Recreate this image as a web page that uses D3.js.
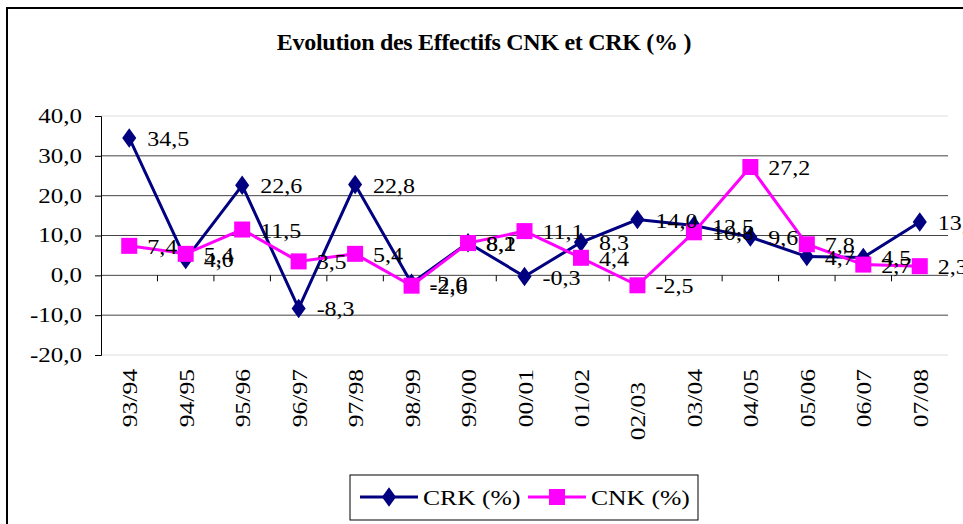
<!DOCTYPE html>
<html><head><meta charset="utf-8">
<script src="https://cdn.jsdelivr.net/npm/d3@7"></script>
</head><body><svg id="c" width="963" height="524"></svg>
<script>
const categories = ["93/94","94/95","95/96","96/97","97/98","98/99","99/00","00/01","01/02","02/03","03/04","04/05","05/06","06/07","07/08"];
const crkValues = [34.5,4.0,22.6,-8.3,22.8,-2.0,8.2,-0.3,8.3,14.0,12.5,9.6,4.7,4.5,13.4];
const cnkValues = [7.4,5.4,11.5,3.5,5.4,-2.6,8.1,11.1,4.4,-2.5,10.8,27.2,7.8,2.7,2.3];
const yTicks = [-20,-10,0,10,20,30,40];
const seriesNames = ["CRK (%)","CNK (%)"];
const title = "Evolution des Effectifs CNK et CRK (% )";
const SERIF = "Liberation Serif";
const SX = 1.2; // horizontal stretch of the original text rendering

d3.select("body").style("margin","0px").style("font-family",SERIF);
const svg = d3.select("#c").style("display","block").style("font-family",SERIF);
const L = 101, R = 948, T = 116, B = 355;
const x = d3.scaleBand().domain(categories).range([L, R]);
const y = d3.scaleLinear().domain([-20, 40]).range([B, T]);
const fmt = v => d3.format(".1f")(v).replace("−","-").replace(".", ",");

// outer frame
svg.append("path").attr("d","M7,530 V8 H970").attr("fill","none").attr("stroke","#000").attr("stroke-width",2);

svg.append("text").attr("x",484).attr("y",50).attr("text-anchor","middle").style("font-family",SERIF)
  .attr("font-weight","bold").attr("font-size",24).attr("letter-spacing",-0.3).text(title);

// plot area borders (light)
svg.append("line").attr("x1",L).attr("x2",R).attr("y1",T).attr("y2",T).attr("stroke","#ddd");
svg.append("line").attr("x1",L).attr("x2",R).attr("y1",B).attr("y2",B).attr("stroke","#ddd");
// gridlines
svg.append("g").selectAll("line").data(yTicks.filter(d=>d>-20&&d<40)).join("line")
  .attr("x1",L).attr("x2",R).attr("y1",d=>y(d)).attr("y2",d=>y(d)).attr("stroke","#444").attr("stroke-width",1);

// y axis
const ya = svg.append("g").attr("transform",`translate(${L},0)`)
  .call(d3.axisLeft(y).tickValues(yTicks).tickFormat(fmt).tickSize(6).tickPadding(13));
ya.attr("font-family",null).attr("font-size",null);
ya.selectAll("text").attr("font-size",20).attr("fill","#000").style("font-family",SERIF)
  .attr("x",-19/1.25).attr("transform","scale(1.25,1)");
ya.selectAll("line,path").attr("stroke","#000");

// category axis at zero
const x0 = y(0);
svg.append("g").selectAll("line").data(categories.slice(1)).join("line")
  .attr("x1",d=>x(d)).attr("x2",d=>x(d)).attr("y1",x0).attr("y2",x0+6).attr("stroke","#000");

// category labels
svg.append("g").selectAll("text").data(categories).join("text")
  .attr("transform",d=>`translate(${x(d)+x.bandwidth()/2+8},${d==="02/03"?382:369}) rotate(-90) scale(1.22,1)`)
  .attr("text-anchor","end").attr("font-size",21).style("font-family",SERIF).text(d=>d);

const cx = d => x(d) + x.bandwidth()/2;
const line = d3.line().x((d,i)=>cx(categories[i])).y(d=>y(d));

// CRK
svg.append("path").datum(crkValues).attr("d",line).attr("fill","none").attr("stroke","#000080").attr("stroke-width",3);
svg.append("g").selectAll("path").data(crkValues).join("path")
  .attr("d",d3.symbol(d3.symbolDiamond,110)())
  .attr("transform",(d,i)=>`translate(${cx(categories[i])},${y(d)}) scale(1.25,1)`)
  .attr("fill","#000080");
// CNK
svg.append("path").datum(cnkValues).attr("d",line).attr("fill","none").attr("stroke","#ff00ff").attr("stroke-width",3);
svg.append("g").selectAll("rect").data(cnkValues).join("rect")
  .attr("x",(d,i)=>cx(categories[i])-8).attr("y",d=>y(d)-8).attr("width",16).attr("height",16).attr("fill","#ff00ff");

// labels
const addLabels = vals => svg.append("g").selectAll("text").data(vals).join("text")
  .attr("transform",(d,i)=>`translate(${cx(categories[i])+18},${y(d)+8}) scale(${SX},1)`)
  .attr("font-size",20).style("font-family",SERIF).text(fmt);
addLabels(crkValues);
addLabels(cnkValues);

// legend
svg.append("rect").attr("x",350).attr("y",475).attr("width",348).attr("height",45).attr("fill","#fff").attr("stroke","#000");
const lg = [{x:360, c:"#000080", s:"d"},{x:528, c:"#ff00ff", s:"s"}];
lg.forEach((o,i)=>{
  svg.append("line").attr("x1",o.x).attr("x2",o.x+58).attr("y1",497).attr("y2",497).attr("stroke",o.c).attr("stroke-width",3);
  if(o.s==="d") svg.append("path").attr("d",d3.symbol(d3.symbolDiamond,110)()).attr("transform",`translate(${o.x+29},497) scale(1.25,1)`).attr("fill",o.c);
  else svg.append("rect").attr("x",o.x+21).attr("y",489).attr("width",16).attr("height",16).attr("fill",o.c);
  svg.append("text").attr("transform",`translate(${o.x+63},505) scale(1.22,1)`).attr("font-size",21).style("font-family",SERIF).text(seriesNames[i]);
});
</script></body></html>
